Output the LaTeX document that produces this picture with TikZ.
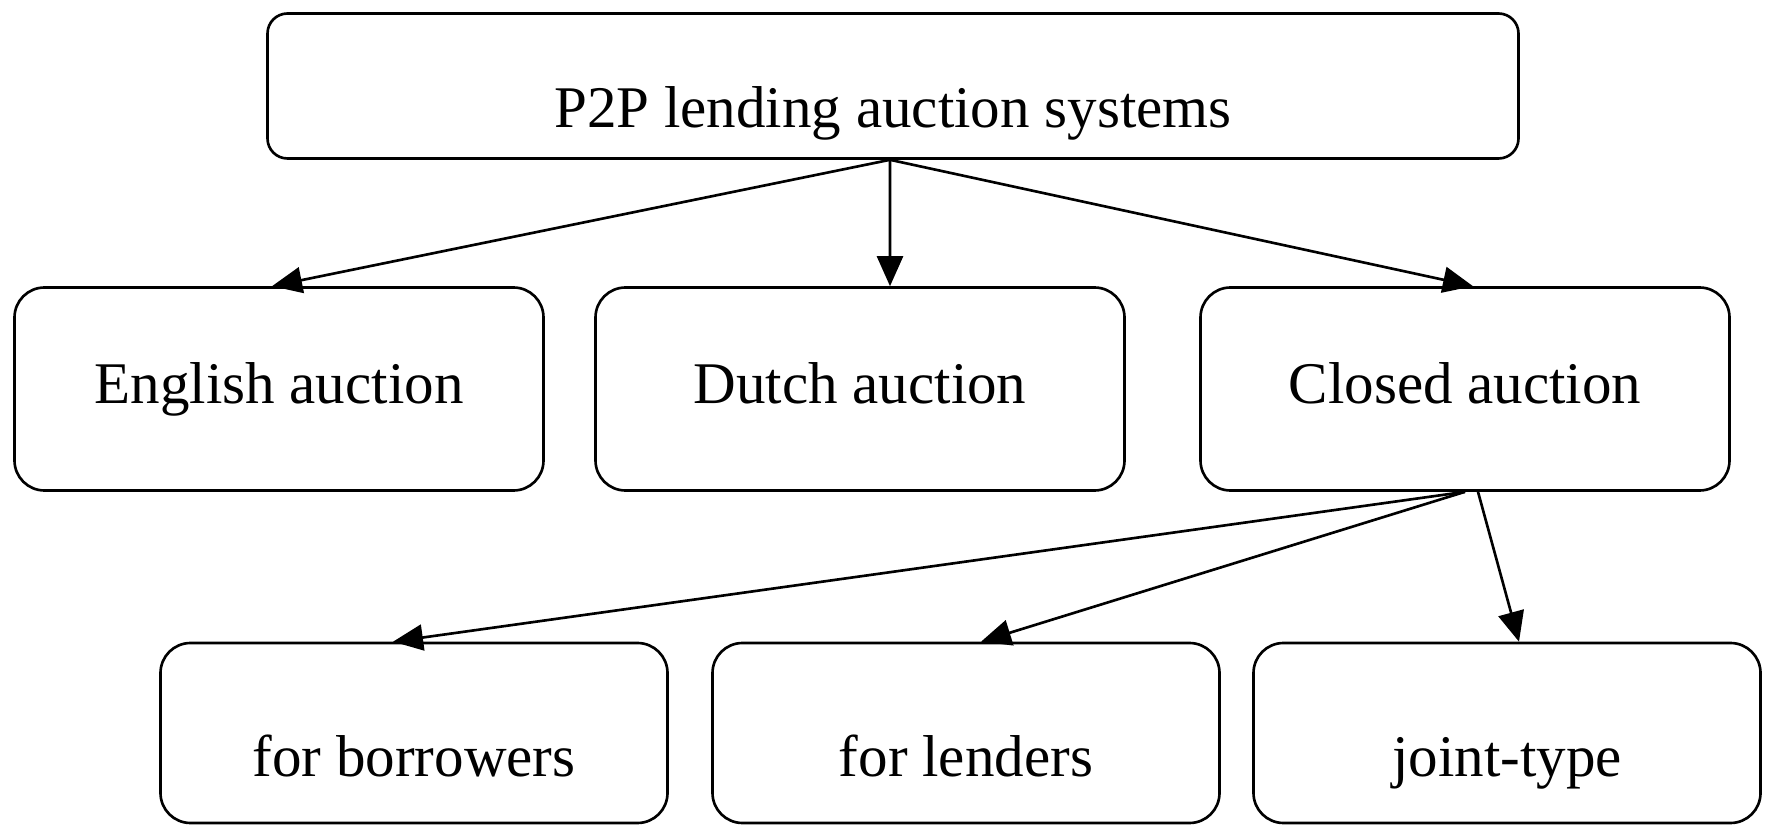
\documentclass[tikz,border=0pt]{standalone}
\usepackage{fontspec}
\setmainfont{Liberation Serif}
\usetikzlibrary{arrows.meta}
\tikzset{
  box/.style={draw, line width=0.75pt, inner sep=0pt, rounded corners=0.3cm,
    font=\fontsize{16.8}{20}\selectfont},
  toprow/.style={box, minimum width=5.29cm, text height=1.16cm, text depth=0.87cm},
  botrow/.style={box, minimum width=5.07cm, text height=1.33cm, text depth=0.47cm},
  link/.style={line width=0.75pt, -{Triangle[length=0.3cm,width=0.26cm]}}
}
\begin{document}
\begin{tikzpicture}
                \useasboundingbox (0,0) rectangle (17.69,8.25);
                \node [box, rounded corners=0.2cm, minimum width=12.51cm, text height=1.14cm, text depth=0.31cm] (top) at (8.93,7.39) {P2P lending auction systems};
                \node [toprow] (english) at (2.79,4.36) {English auction};
                \node [toprow] (dutch) at (8.60,4.36) {Dutch auction};
                \node [toprow] (closed) at (14.65,4.36) {Closed auction};
                \node [botrow] (borrowers) at (4.14,0.92) {for borrowers};
                \node [botrow] (lenders) at (9.66,0.92) {for lenders};
                \node [botrow] (joint) at (15.07,0.92) {joint-type};
                \draw [link] ([xshift=-0.03cm]top.south) -- ([xshift=-0.07cm]english.north);
                \draw [link] ([xshift=-0.03cm]top.south) -- ([xshift=0.30cm]dutch.north);
                \draw [link] ([xshift=-0.03cm]top.south) -- ([xshift=0.08cm]closed.north);
                \draw [link] (closed.south) -- ([xshift=-0.21cm]borrowers.north);
                \draw [link] (closed.south) -- ([xshift=0.15cm]lenders.north);
                \draw [link] ([xshift=0.13cm]closed.south) -- ([xshift=0.12cm]joint.north);
            \end{tikzpicture}
\end{document}
